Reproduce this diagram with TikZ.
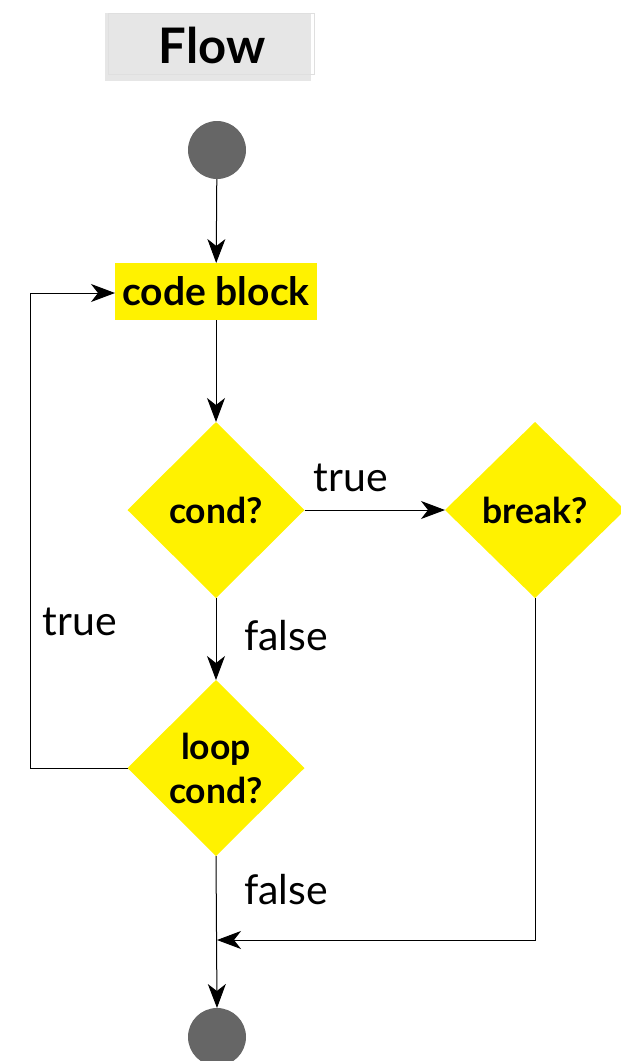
\documentclass[tikz,border=0pt]{standalone}
\usepackage{fontspec}
\setmainfont{Lato}
\usetikzlibrary{shapes.geometric,arrows.meta}
\definecolor{startgray}{HTML}{666666}
\definecolor{titlegray}{HTML}{E6E6E6}
\tikzset{
  x=1pt,y=-1pt,
  every node/.style={inner sep=0pt,outer sep=0pt},
  dot/.style={circle,fill=startgray,minimum size=58pt},
  box/.style={rectangle,fill=yellow,minimum width=202pt,minimum height=57pt,font=\fontsize{39}{44}\selectfont\bfseries},
  dia/.style={diamond,fill=yellow,minimum width=177pt,minimum height=176pt,align=center,font=\fontsize{35.5}{44}\selectfont\bfseries},
  lbl/.style={font=\fontsize{41}{46}\selectfont},
  flow/.style={draw=black,line width=1pt,-{Stealth[length=24pt,width=18pt,inset=7pt]}},
  wire/.style={draw=black,line width=1pt}
}
\begin{document}
\begin{tikzpicture}
\useasboundingbox (0,0) rectangle (621,1061);
% title
\fill[titlegray] (105,13) rectangle (311,81);
\draw[gray!25,line width=0.8pt] (108,13) rectangle (314,74);
\node[font=\fontsize{49}{56}\selectfont\bfseries] (title) at (212,45) {Flow};
% nodes
\node[dot] (start) at (217,150) {};
\node[box] (code) at (216,291.5) {code block};
\node[dia] (cond) at (216,510) {cond?};
\node[dia,minimum width=180pt] (brk) at (535,510) {break?};
\node[dia] (loop) at (216,768) {loop\\cond?};
\node[dot] (end) at (217,1037) {};
\coordinate (tl) at (30,768);
\coordinate (tt) at (30,293);
\coordinate (bb) at (535,940);
\coordinate (jn) at (217,940);
% connectors
\draw[flow] (start) -- (code);
\draw[flow] (code) -- (cond);
\draw[flow] (cond.east) -- (brk.west);
\draw[flow] (cond.south) -- (loop.north);
\draw[flow] (loop.west) -- (tl) -- (tt) -- (code.west |- tt);
\draw[flow] (loop.south) -- (end.north);
\draw[flow] (brk.south) -- (bb) -- (jn);
% labels
\node[lbl] (ltrue1) at (351,478) {true};
\node[lbl] (lfalse1) at (286,636) {false};
\node[lbl] (ltrue2) at (80,622) {true};
\node[lbl] (lfalse2) at (286,890) {false};
\end{tikzpicture}
\end{document}
